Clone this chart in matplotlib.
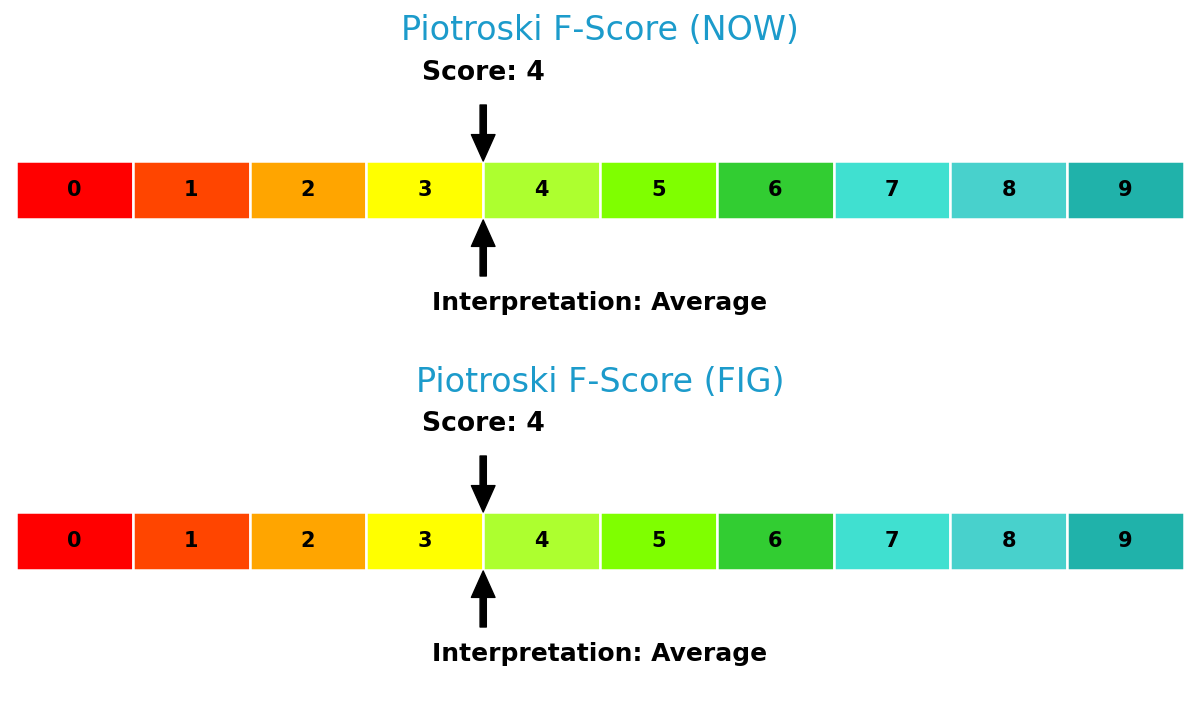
import matplotlib
matplotlib.use("Agg")
import matplotlib.pyplot as plt

# scores shown in the two gauges
tickers = ["NOW", "FIG"]
scores = [4, 4]
interpretations = ["Average", "Average"]

levels = list(range(10))
level_colors = ["#FF0000", "#FF4500", "#FFA500", "#FFFF00", "#ADFF2F",
                "#7FFF00", "#32CD32", "#40E0D0", "#48D1CC", "#20B2AA"]

fig = plt.figure(figsize=(12, 7.02), dpi=100)

W, H = 1200, 702
panel_h = 351

for i in range(len(tickers)):
    top = i * panel_h
    ax = fig.add_axes([16 / W, (H - top - panel_h) / H, 1168 / W, panel_h / H])
    ax.set_xlim(0, 10)
    ax.set_ylim(panel_h, 0)
    ax.axis("off")

    # cells
    ax.barh(161 + 29, [1] * len(levels), left=levels, height=58,
            color=level_colors, edgecolor="white", linewidth=1.8)
    for lv in levels:
        ax.text(lv + 0.5, 190, str(lv), ha="center", va="center",
                fontsize=15, fontweight="bold", color="black")

    s = scores[i]
    ax.text(5, 31, "Piotroski F-Score (%s)" % tickers[i], ha="center", va="center",
            fontsize=24, color="#1C9BCB")
    ax.text(s, 73, "Score: %d" % s, ha="center", va="center",
            fontsize=19.2, fontweight="bold", color="black")
    ax.annotate("", xy=(s, 161), xytext=(s, 105),
                arrowprops=dict(facecolor="black", edgecolor="black",
                                width=4.5, headwidth=17, headlength=19, shrink=0))
    ax.annotate("", xy=(s, 220), xytext=(s, 276),
                arrowprops=dict(facecolor="black", edgecolor="black",
                                width=4.5, headwidth=17, headlength=19, shrink=0))
    ax.text(5, 303, "Interpretation: %s" % interpretations[i], ha="center", va="center",
            fontsize=18, fontweight="bold", color="black")

fig.savefig("out.png", dpi=100)
